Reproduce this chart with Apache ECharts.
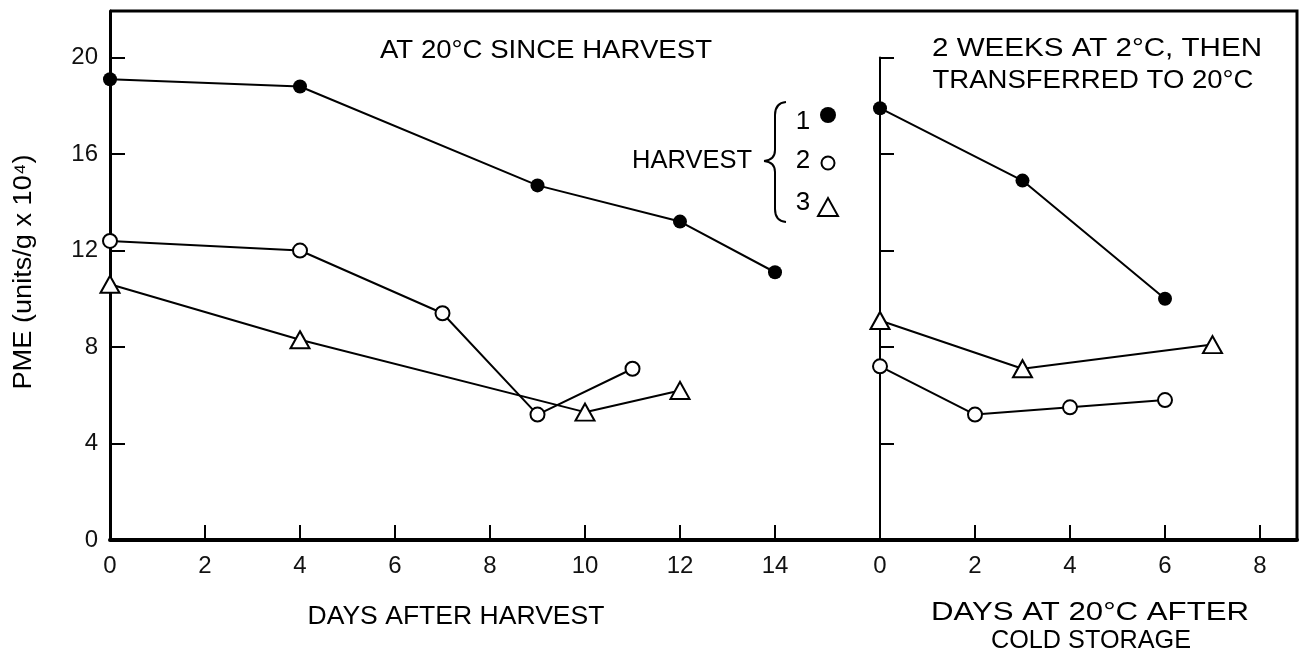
<!DOCTYPE html>
<html>
<head>
<meta charset="utf-8">
<title>PME activity after harvest</title>
<script src="https://cdn.jsdelivr.net/npm/echarts@6/dist/echarts.min.js"></script>
<style>
  html, body { margin: 0; padding: 0; background: #fff; }
  #chart { width: 1302px; height: 666px; }
</style>
</head>
<body>
<div id="chart"></div>
<script>
// ---- data: PME (units/g x 10^4) ----
// fruit held at 20°C since harvest
const leftDays1 = [0, 4, 9, 12, 14];
const leftPme1  = [19.1, 18.8, 14.7, 13.2, 11.1];
const leftDays2 = [0, 4, 7, 9, 11];
const leftPme2  = [12.4, 12.0, 9.4, 5.2, 7.1];
const leftDays3 = [0, 4, 10, 12];
const leftPme3  = [10.6, 8.3, 5.3, 6.2];
// 2 weeks at 2°C, then transferred to 20°C
const rightDays1 = [0, 3, 6];
const rightPme1  = [17.9, 14.9, 10.0];
const rightDays2 = [0, 2, 4, 6];
const rightPme2  = [7.2, 5.2, 5.5, 5.8];
const rightDays3 = [0, 3, 7];
const rightPme3  = [9.1, 7.1, 8.1];

// ---- tick labels ----
const yTicks = [0, 4, 8, 12, 16, 20];
const yTicksRight = [4, 8, 12, 16, 20];
const leftXTicks = [0, 2, 4, 6, 8, 10, 12, 14];
const rightXTicks = [0, 2, 4, 6, 8];

// ---- layout ----
const plotLeft = 110, plotTop = 11, plotRight = 1297, plotBottom = 540;
const splitX = 880;            // where the second panel's axis sits
const pxPerDay = 47.5;
const yMax = 21.93;
const plotH = plotBottom - plotTop;
const rightTop = plotBottom - plotH * 20 / yMax;  // right axis ends at 20

const FONT = '"Liberation Sans", Arial, Helvetica, "DejaVu Sans", sans-serif';
const INK = '#000';

const zip = (xs, ys) => xs.map((x, i) => [x, ys[i]]);

const measureCtx = document.createElement('canvas').getContext('2d');
function textWidth(text, size) {
  measureCtx.font = size + 'px ' + FONT;
  return measureCtx.measureText(text).width;
}
// centred text, stretched to a given width
function label(text, cx, cy, width, size, rotation) {
  const s = width ? width / textWidth(text, size) : 1;
  return {
    type: 'text', x: cx, y: cy, scaleX: s, rotation: rotation || 0, silent: true,
    style: {
      text: text, font: size + 'px ' + FONT, fill: INK,
      align: 'center', verticalAlign: 'middle',
      textAlign: 'center', textVerticalAlign: 'middle'
    }
  };
}
const strokeStyle = { stroke: INK, lineWidth: 2, fill: null };
function seg(x1, y1, x2, y2) {
  return { type: 'line', silent: true, shape: { x1, y1, x2, y2 }, style: strokeStyle };
}
function curve(x1, y1, cpx1, cpy1, x2, y2) {
  return { type: 'bezierCurve', silent: true, shape: { x1, y1, x2, y2, cpx1, cpy1 }, style: strokeStyle };
}

const markerFilled = { symbol: 'circle', symbolSize: 14, itemStyle: { color: INK, borderWidth: 0 } };
const markerOpen = { symbol: 'circle', symbolSize: 14, itemStyle: { color: '#fff', borderColor: INK, borderWidth: 2 } };
const markerTri = { symbol: 'triangle', symbolSize: [19, 17], itemStyle: { color: '#fff', borderColor: INK, borderWidth: 2 } };

function lineSeries(idx, data, marker, z) {
  return Object.assign({
    type: 'line', xAxisIndex: idx, yAxisIndex: idx, data: data,
    showSymbol: true, clip: false, animation: false, z: z || 2,
    lineStyle: { color: INK, width: 2 }
  }, marker);
}

const tickLabelStyle = { color: '#111', fontSize: 24, fontFamily: FONT };

function xAxis(grid, max, ticks) {
  return {
    type: 'value', gridIndex: grid, min: 0, max: max,
    axisLine: { show: true, onZero: false, lineStyle: { color: INK, width: 4 } },
    axisTick: { show: true, inside: true, length: 15, customValues: ticks, lineStyle: { color: INK, width: 2 } },
    axisLabel: Object.assign({ show: true, margin: 14, customValues: ticks }, tickLabelStyle),
    splitLine: { show: false }
  };
}

const option = {
  backgroundColor: '#fff',
  animation: false,
  grid: [
    { left: plotLeft, top: plotTop, width: splitX - plotLeft, height: plotH },
    { left: splitX, top: rightTop, width: plotRight - splitX, height: plotBottom - rightTop }
  ],
  xAxis: [
    xAxis(0, (splitX - plotLeft) / pxPerDay, leftXTicks),
    xAxis(1, (plotRight - splitX) / pxPerDay, rightXTicks)
  ],
  yAxis: [
    {
      type: 'value', gridIndex: 0, min: 0, max: yMax,
      axisLine: { show: true, onZero: false, lineStyle: { color: INK, width: 3 } },
      axisTick: { show: true, inside: true, length: 15, customValues: yTicks, lineStyle: { color: INK, width: 2 } },
      axisLabel: Object.assign({ show: true, margin: 12, customValues: yTicks }, tickLabelStyle),
      splitLine: { show: false }
    },
    {
      type: 'value', gridIndex: 1, min: 0, max: 20,
      axisLine: { show: true, onZero: false, lineStyle: { color: INK, width: 2 } },
      axisTick: { show: true, inside: true, length: 14, customValues: yTicksRight, lineStyle: { color: INK, width: 2 } },
      axisLabel: { show: false },
      splitLine: { show: false }
    }
  ],
  series: [
    lineSeries(0, zip(leftDays3, leftPme3), markerTri, 2),
    lineSeries(0, zip(leftDays2, leftPme2), markerOpen, 3),
    lineSeries(0, zip(leftDays1, leftPme1), markerFilled, 4),
    lineSeries(1, zip(rightDays3, rightPme3), markerTri, 2),
    lineSeries(1, zip(rightDays2, rightPme2), markerOpen, 3),
    lineSeries(1, zip(rightDays1, rightPme1), markerFilled, 4)
  ],
  graphic: [
    // top and right edges of the frame
    { type: 'polyline', silent: true, shape: { points: [[plotLeft, plotTop], [plotRight, plotTop], [plotRight, plotBottom]] },
      style: { stroke: INK, lineWidth: 3, fill: null } },
    // panel headings
    label('AT 20°C SINCE HARVEST', 546, 51, 332, 25),
    label('2 WEEKS AT 2°C, THEN', 1097, 49, 330, 25),
    label('TRANSFERRED TO 20°C', 1093, 81, 321, 25),
    // harvest key with its brace
    label('HARVEST', 692, 161, 120, 25),
    curve(786, 102, 775, 103, 775, 115),
    seg(775, 115, 775, 150),
    curve(775, 150, 775, 160, 764, 161),
    curve(764, 161, 775, 162, 775, 172),
    seg(775, 172, 775, 209),
    curve(775, 209, 775, 221, 786, 222),
    label('1', 803, 122, 0, 26),
    label('2', 803, 161, 0, 26),
    label('3', 803, 203, 0, 26),
    { type: 'circle', silent: true, shape: { cx: 828, cy: 115, r: 8 }, style: { fill: INK } },
    { type: 'circle', silent: true, shape: { cx: 828, cy: 163, r: 6.5 }, style: { fill: '#fff', stroke: INK, lineWidth: 2 } },
    { type: 'polygon', silent: true, shape: { points: [[818, 216], [838, 216], [828, 198]] }, style: { fill: '#fff', stroke: INK, lineWidth: 2 } },
    // axis titles
    label('DAYS AFTER HARVEST', 456, 617, 297, 25),
    label('DAYS AT 20°C AFTER', 1090, 613, 318, 25),
    label('COLD STORAGE', 1091, 641, 200, 25),
    label('PME (units/g x 10⁴)', 24, 272, 235, 25, Math.PI / 2)
  ]
};

const chart = echarts.init(document.getElementById('chart'), null, { renderer: 'canvas' });
chart.setOption(option);
</script>
</body>
</html>
